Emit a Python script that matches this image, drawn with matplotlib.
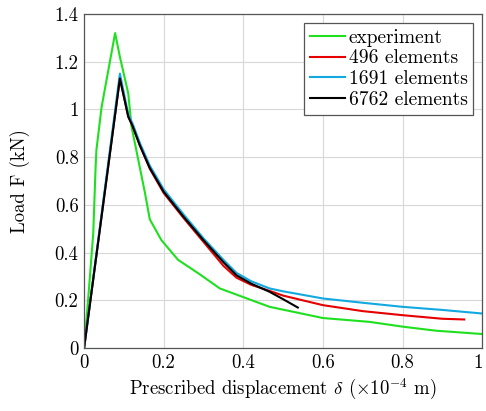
# Load-displacement curves: experiment vs FE meshes
import matplotlib
matplotlib.use('Agg')
import matplotlib.pyplot as plt
import matplotlib.transforms as mtransforms

plt.rcParams['font.family'] = 'serif'
plt.rcParams['font.serif'] = ['cmr10']
plt.rcParams['mathtext.fontset'] = 'cm'
plt.rcParams['axes.formatter.use_mathtext'] = True

# Experiment
exp_x = [0.0, 0.01, 0.023, 0.029, 0.031, 0.044, 0.078, 0.09, 0.111, 0.119, 0.136,
         0.153, 0.165, 0.194, 0.236, 0.29, 0.341, 0.466, 0.566, 0.6, 0.717, 0.8,
         0.884, 1.0]
exp_y = [0.0, 0.2, 0.48, 0.76, 0.83, 1.01, 1.32, 1.22, 1.067, 0.93, 0.79,
         0.65, 0.54, 0.453, 0.37, 0.31, 0.25, 0.173, 0.138, 0.126, 0.11, 0.09,
         0.073, 0.059]

# 496 elements
e496_x = [0.0, 0.09, 0.111, 0.122, 0.14, 0.165, 0.2, 0.25, 0.3, 0.35, 0.383,
          0.42, 0.466, 0.5, 0.6, 0.7, 0.8, 0.9, 0.955]
e496_y = [0.0, 1.13, 0.97, 0.93, 0.85, 0.752, 0.65, 0.545, 0.445, 0.345, 0.295,
          0.265, 0.24, 0.22, 0.18, 0.155, 0.138, 0.123, 0.12]

# 1691 elements
e1691_x = [0.0, 0.09, 0.111, 0.122, 0.14, 0.165, 0.2, 0.25, 0.3, 0.35, 0.383,
           0.42, 0.466, 0.5, 0.6, 0.7, 0.8, 0.9, 1.0]
e1691_y = [0.0, 1.15, 0.98, 0.94, 0.86, 0.765, 0.665, 0.56, 0.46, 0.37, 0.315,
           0.28, 0.25, 0.238, 0.208, 0.19, 0.173, 0.16, 0.145]

# 6762 elements
e6762_x = [0.0, 0.09, 0.111, 0.122, 0.14, 0.165, 0.2, 0.25, 0.3, 0.35, 0.383,
           0.42, 0.466, 0.5, 0.537]
e6762_y = [0.0, 1.13, 0.97, 0.93, 0.85, 0.755, 0.655, 0.55, 0.452, 0.36, 0.305,
           0.27, 0.236, 0.205, 0.17]

fig = plt.figure(figsize=(4.86, 4.11), dpi=100)
ax = fig.add_axes([0.173, 0.153, 0.819, 0.813])

ax.plot(exp_x, exp_y, color='#1fe01f', lw=1.5, label='experiment')
ax.plot(e496_x, e496_y, color='#e60000', lw=1.5, label='496 elements')
ax.plot(e1691_x, e1691_y, color='#12a8e0', lw=1.5, label='1691 elements')
ax.plot(e6762_x, e6762_y, color='black', lw=1.5, label='6762 elements')

ax.set_xlim(0, 1)
ax.set_ylim(0, 1.4)
ax.set_xticks([0, 0.2, 0.4, 0.6, 0.8, 1])
ax.set_xticklabels(['0', '0.2', '0.4', '0.6', '0.8', '1'])
ax.set_yticks([0, 0.2, 0.4, 0.6, 0.8, 1, 1.2, 1.4])
ax.set_yticklabels(['0', '0.2', '0.4', '0.6', '0.8', '1', '1.2', '1.4'])
ax.tick_params(length=0, labelsize=13.5, pad=4)
ax.grid(color='#d8d8d8', lw=0.8)
for s in ax.spines.values():
    s.set_color('#555555')
    s.set_linewidth(0.9)

# keep the last x tick label inside the picture
last = ax.get_xticklabels()[-1]
last.set_transform(last.get_transform() +
                   mtransforms.ScaledTranslation(-3 / 72, 0, fig.dpi_scale_trans))

ax.set_xlabel(r'Prescribed displacement $\delta$ ($\times10^{-4}$ m)', fontsize=13.5)
ax.set_ylabel('Load F (kN)', fontsize=13.5)
ax.xaxis.set_label_coords(0.5, -0.125)
ax.yaxis.set_label_coords(-0.16, 0.5)
ax.xaxis.label.set_va('center')
ax.yaxis.label.set_va('center')

leg = ax.legend(loc='upper right', fontsize=14, fancybox=False, framealpha=1,
                edgecolor='#555555', handlelength=1.8, borderaxespad=0.45,
                borderpad=0.3, labelspacing=0.15, handletextpad=0.2)
leg.get_frame().set_linewidth(0.9)

fig.savefig('out.png', dpi=100)
